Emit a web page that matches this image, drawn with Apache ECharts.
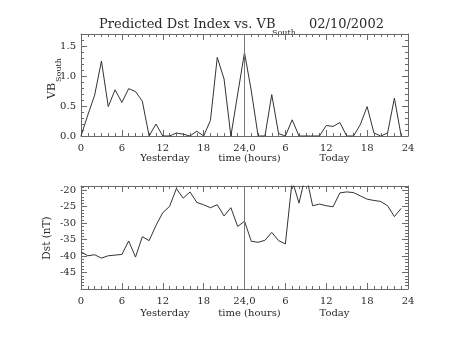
<!DOCTYPE html>
<html>
<head>
<meta charset="utf-8">
<script src="https://cdn.jsdelivr.net/npm/echarts@6/dist/echarts.min.js"></script>
<style>
  html, body { margin: 0; padding: 0; background: #fff; }
  #chart { width: 454px; height: 341px; }
</style>
</head>
<body>
<div id="chart"></div>
<script>
// Hours since the start of yesterday (0-23 yesterday, 24-47 today)
const hours = [0, 1, 2, 3, 4, 5, 6, 7, 8, 9, 10, 11, 12, 13, 14, 15, 16, 17, 18, 19, 20, 21, 22, 23,
               24, 25, 26, 27, 28, 29, 30, 31, 32, 33, 34, 35, 36, 37, 38, 39, 40, 41, 42, 43, 44, 45, 46, 47];

// Southward component of V*B
const vbSouth = [0.0, 0.35, 0.68, 1.25, 0.49, 0.77, 0.56, 0.79, 0.74, 0.58, 0.0, 0.2,
                 0.0, 0.0, 0.05, 0.03, 0.0, 0.08, 0.0, 0.26, 1.31, 0.95, 0.0, 0.7,
                 1.39, 0.75, 0.0, 0.0, 0.69, 0.04, 0.0, 0.27, 0.0, 0.0, 0.0, 0.0,
                 0.175, 0.16, 0.225, 0.0, 0.0, 0.19, 0.49, 0.05, 0.0, 0.05, 0.63, 0.0];

// Predicted Dst index (nT)
const dst = [-38.7, -39.9, -39.6, -40.6, -39.9, -39.7, -39.5, -35.4, -40.3, -34.1, -35.3, -30.7,
             -26.8, -24.9, -19.5, -22.4, -20.5, -23.7, -24.4, -25.3, -24.4, -27.8, -25.3, -31.0,
             -29.4, -35.5, -35.8, -35.2, -32.8, -35.3, -36.3, -17.0, -23.9, -15.0, -24.7, -24.2,
             -24.7, -25.0, -20.8, -20.5, -20.7, -21.7, -22.7, -23.1, -23.4, -24.7, -28.0, -25.5];

// Hour tick labels along the two-day axis
const hourTicks = { 0: '0', 6: '6', 12: '12', 18: '18', 24: '24,0', 30: '6', 36: '12', 42: '18', 48: '24' };
const dayLabels = ['Yesterday', 'time (hours)', 'Today'];

const FONT = 'DejaVu Serif';
const AXIS_COLOR = '#6a6a6a';
const TEXT_COLOR = '#2a2a2a';
const LINE_COLOR = '#333';

function xAxisFor(grid, pos) {
  return {
    type: 'value', gridIndex: grid, position: pos,
    min: 0, max: 48, interval: 6,
    axisLine: { show: true, onZero: false, lineStyle: { color: AXIS_COLOR, width: 1 } },
    axisTick: { show: true, inside: true, length: 6, lineStyle: { color: AXIS_COLOR } },
    minorTick: { show: true, splitNumber: 6, length: 3, lineStyle: { color: AXIS_COLOR } },
    splitLine: { show: false },
    axisLabel: {
      show: pos === 'bottom', margin: 7,
      fontFamily: FONT, fontSize: 10, color: TEXT_COLOR,
      formatter: v => hourTicks[v] !== undefined ? hourTicks[v] : ''
    }
  };
}

function yAxisFor(grid, pos, min, max, fmt) {
  return {
    type: 'value', gridIndex: grid, position: pos,
    min: min, max: max, interval: pos === 'left' || pos === 'right' ? yInterval(grid) : undefined,
    axisLine: { show: true, onZero: false, lineStyle: { color: AXIS_COLOR, width: 1 } },
    axisTick: { show: true, inside: true, length: 6, lineStyle: { color: AXIS_COLOR } },
    minorTick: { show: true, splitNumber: 5, length: 3, lineStyle: { color: AXIS_COLOR } },
    splitLine: { show: false },
    axisLabel: {
      show: pos === 'left', margin: 5, showMinLabel: grid === 0, showMaxLabel: false,
      fontFamily: FONT, fontSize: 10, color: TEXT_COLOR,
      formatter: fmt
    }
  };
}

function yInterval(grid) { return grid === 0 ? 0.5 : 5; }

const midnight = {
  silent: true, symbol: ['none', 'none'],
  label: { show: false },
  lineStyle: { color: '#777', width: 1, type: 'solid' },
  data: [{ xAxis: 24 }]
};

const chart = echarts.init(document.getElementById('chart'), null, { renderer: 'canvas' });

const textAt = (text, x, y, size, align, rot) => ({
  type: 'text', x: x, y: y, rotation: rot || 0, silent: true,
  style: { text: text, font: size + 'px "' + FONT + '"', fill: TEXT_COLOR, align: align, verticalAlign: 'middle' }
});

chart.setOption({
  animation: false,
  backgroundColor: '#fff',
  grid: [
    { left: 81, right: 46, top: 34, height: 102 },
    { left: 81, right: 46, top: 186, height: 103 }
  ],
  xAxis: [xAxisFor(0, 'bottom'), xAxisFor(0, 'top'), xAxisFor(1, 'bottom'), xAxisFor(1, 'top')],
  yAxis: [
    yAxisFor(0, 'left', 0, 1.7, v => v.toFixed(1)),
    yAxisFor(0, 'right', 0, 1.7, v => v.toFixed(1)),
    yAxisFor(1, 'left', -50, -18.7, v => String(v)),
    yAxisFor(1, 'right', -50, -18.7, v => String(v))
  ],
  series: [
    {
      type: 'line', xAxisIndex: 0, yAxisIndex: 0, symbol: 'none', clip: true,
      lineStyle: { color: LINE_COLOR, width: 1 },
      data: hours.map((h, i) => [h, vbSouth[i]]),
      markLine: midnight
    },
    {
      type: 'line', xAxisIndex: 2, yAxisIndex: 2, symbol: 'none', clip: true,
      lineStyle: { color: LINE_COLOR, width: 1 },
      data: hours.map((h, i) => [h, dst[i]]),
      markLine: midnight
    }
  ],
  graphic: [
    textAt('Predicted Dst Index vs. VB', 99, 25, 13, 'left'),
    textAt('South', 272, 33, 8, 'left'),
    textAt('02/10/2002', 309, 25, 13, 'left'),
    textAt('VB', 52.5, 91, 11, 'center', Math.PI / 2),
    textAt('South', 58.5, 70, 8, 'center', Math.PI / 2),
    textAt('Dst (nT)', 47.5, 238, 10.5, 'center', Math.PI / 2),
    textAt(dayLabels[0], 165, 158.5, 10, 'center'),
    textAt(dayLabels[1], 249.5, 158.5, 10, 'center'),
    textAt(dayLabels[2], 334.5, 158.5, 10, 'center'),
    textAt(dayLabels[0], 165, 313, 10, 'center'),
    textAt(dayLabels[1], 249.5, 313, 10, 'center'),
    textAt(dayLabels[2], 334.5, 313, 10, 'center')
  ]
});
</script>
</body>
</html>
